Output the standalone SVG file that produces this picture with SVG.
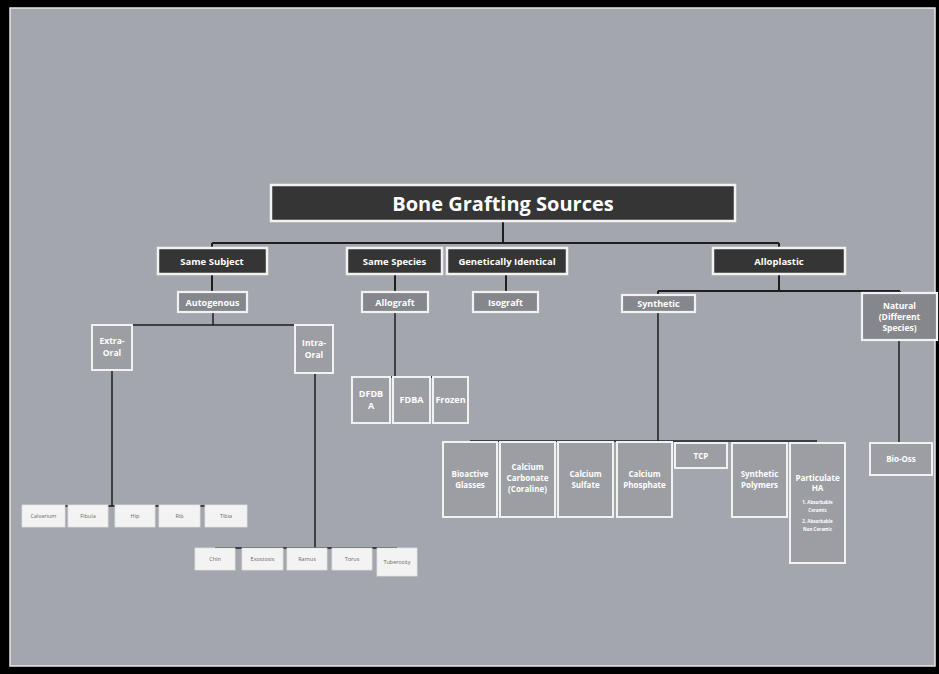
<svg xmlns="http://www.w3.org/2000/svg" width="939" height="674" viewBox="0 0 939 674">
<style>
.t{font-family:"Open Sans","Liberation Sans",sans-serif;font-weight:bold;text-anchor:middle;fill:#ffffff}
.dk{fill:#353535;stroke:#f2f2f2;stroke-width:2.5}
.md{fill:#85878c;stroke:#f2f2f2;stroke-width:2.2}
.lt{fill:#9c9ea3;stroke:#f2f2f2;stroke-width:2}
.wb{fill:#f3f3f3;stroke:#e0e0e0;stroke-width:0.8}
.wt{font-family:"Open Sans","Liberation Sans",sans-serif;font-size:5.5px;text-anchor:middle;fill:#6a6a6a}
.c{stroke:#1e1e1e;stroke-width:2;fill:none}
.c2{stroke:#1e1e1e;stroke-width:1.5;fill:none}
</style>
<rect x="0" y="0" width="939" height="674" fill="#000"/>
<rect x="10" y="8" width="925" height="658" fill="#a3a6ad" stroke="#e6e6e6" stroke-width="1.5"/>
<g id="connectors">
<path class="c" d="M503 221V243M212 243H779M212 243V248M779 243V248"/>
<path class="c" d="M212 274V292M395 274V292M506 274V292"/>
<path class="c" d="M779 274V291M658 291H900M658 291V295M900 291V293"/>
<path class="c2" d="M213 312V325M112 325H314"/>
<path class="c2" d="M112 370V506M44 506H226"/>
<path class="c2" d="M315 373V548M215 548H397"/>
<path class="c2" d="M395 312V377M371 377H450"/>
<path class="c2" d="M658 312V441M470 441H817"/>
<path class="c2" d="M899 340V443"/>
</g>
<g id="title"><rect class="dk" x="271" y="185" width="464" height="36"/><text class="t" x="503" y="211" font-size="20">Bone Grafting Sources</text></g>
<g id="same-subject"><rect class="dk" x="158" y="248" width="109" height="26"/><text class="t" x="212" y="265" font-size="9.5">Same Subject</text></g>
<g id="same-species"><rect class="dk" x="347" y="248" width="95" height="26"/><text class="t" x="394.5" y="265" font-size="9.5">Same Species</text></g>
<g id="genetically-identical"><rect class="dk" x="447" y="248" width="120" height="26"/><text class="t" x="507" y="265" font-size="9.5">Genetically Identical</text></g>
<g id="alloplastic"><rect class="dk" x="713" y="248" width="132" height="26"/><text class="t" x="779" y="265" font-size="9.5">Alloplastic</text></g>
<g id="autogenous"><rect class="md" x="178" y="292" width="69" height="20"/><text class="t" x="212.5" y="305.5" font-size="9">Autogenous</text></g>
<g id="allograft"><rect class="md" x="362" y="292" width="66" height="20"/><text class="t" x="395" y="305.5" font-size="9">Allograft</text></g>
<g id="isograft"><rect class="md" x="473" y="292" width="65" height="20"/><text class="t" x="505.5" y="305.5" font-size="9">Isograft</text></g>
<g id="synthetic"><rect class="md" x="622" y="295" width="73" height="17"/><text class="t" x="658.5" y="307" font-size="9">Synthetic</text></g>
<g id="natural"><rect class="md" x="862" y="293" width="75" height="47"/><text class="t" x="899.5" y="309" font-size="8.5">Natural</text><text class="t" x="899.5" y="320" font-size="8.5">(Different</text><text class="t" x="899.5" y="331" font-size="8.5">Species)</text></g>
<g id="extra-oral"><rect class="lt" x="92" y="325" width="40" height="45"/><text class="t" x="112" y="344" font-size="8.5" fill="#eee">Extra-</text><text class="t" x="112" y="356" font-size="8.5">Oral</text></g>
<g id="intra-oral"><rect class="lt" x="295" y="325" width="38" height="48"/><text class="t" x="314" y="346" font-size="8.5">Intra-</text><text class="t" x="314" y="358" font-size="8.5">Oral</text></g>
<g id="dfdba"><rect class="lt" x="352" y="377" width="38" height="46"/><text class="t" x="371" y="397" font-size="9">DFDB</text><text class="t" x="371" y="409" font-size="9">A</text></g>
<g id="fdba"><rect class="lt" x="393" y="377" width="37" height="46"/><text class="t" x="411.5" y="403" font-size="9">FDBA</text></g>
<g id="frozen"><rect class="lt" x="433" y="377" width="35" height="46"/><text class="t" x="450.5" y="403" font-size="9">Frozen</text></g>
<g id="bioactive-glasses"><rect class="lt" x="443" y="442" width="54" height="75"/><text class="t" x="470" y="477" font-size="8">Bioactive</text><text class="t" x="470" y="488" font-size="8">Glasses</text></g>
<g id="calcium-carbonate"><rect class="lt" x="500" y="442" width="55" height="75"/><text class="t" x="527.5" y="470" font-size="8">Calcium</text><text class="t" x="527.5" y="481" font-size="8">Carbonate</text><text class="t" x="527.5" y="492" font-size="8">(Coraline)</text></g>
<g id="calcium-sulfate"><rect class="lt" x="558" y="442" width="55" height="75"/><text class="t" x="585.5" y="477" font-size="8">Calcium</text><text class="t" x="585.5" y="488" font-size="8">Sulfate</text></g>
<g id="calcium-phosphate"><rect class="lt" x="617" y="442" width="55" height="75"/><text class="t" x="644.5" y="477" font-size="8">Calcium</text><text class="t" x="644.5" y="488" font-size="8">Phosphate</text></g>
<g id="tcp"><rect class="lt" x="675" y="443" width="52" height="25"/><text class="t" x="701" y="459" font-size="8">TCP</text></g>
<g id="synthetic-polymers"><rect class="lt" x="732" y="443" width="55" height="74"/><text class="t" x="759.5" y="477" font-size="8">Synthetic</text><text class="t" x="759.5" y="488" font-size="8">Polymers</text></g>
<g id="particulate-ha"><rect class="lt" x="790" y="443" width="55" height="120"/><text class="t" x="817.5" y="481" font-size="8">Particulate</text><text class="t" x="817.5" y="491" font-size="8">HA</text><text class="t" x="817.5" y="504" font-size="4.5">1. Absorbable</text><text class="t" x="817.5" y="512" font-size="4.5">Ceramic</text><text class="t" x="817.5" y="523" font-size="4.5">2. Absorbable</text><text class="t" x="817.5" y="531" font-size="4.5">Non Ceramic</text></g>
<g id="bio-oss"><rect class="lt" x="870" y="443" width="62" height="32"/><text class="t" x="901" y="462" font-size="8">Bio-Oss</text></g>
<g id="calvarium"><rect class="wb" x="22" y="505" width="43" height="22"/><text class="wt" x="43.5" y="518">Calvarium</text></g>
<g id="fibula"><rect class="wb" x="68" y="505" width="40" height="22"/><text class="wt" x="88" y="518">Fibula</text></g>
<g id="hip"><rect class="wb" x="115" y="505" width="40" height="22"/><text class="wt" x="135" y="518">Hip</text></g>
<g id="rib"><rect class="wb" x="159" y="505" width="41" height="22"/><text class="wt" x="179.5" y="518">Rib</text></g>
<g id="tibia"><rect class="wb" x="205" y="505" width="42" height="22"/><text class="wt" x="226" y="518">Tibia</text></g>
<g id="chin"><rect class="wb" x="195" y="548" width="40" height="22"/><text class="wt" x="215" y="561">Chin</text></g>
<g id="exostosis"><rect class="wb" x="242" y="548" width="41" height="22"/><text class="wt" x="262.5" y="561">Exostosis</text></g>
<g id="ramus"><rect class="wb" x="287" y="548" width="40" height="22"/><text class="wt" x="307" y="561">Ramus</text></g>
<g id="torus"><rect class="wb" x="332" y="548" width="40" height="22"/><text class="wt" x="352" y="561">Torus</text></g>
<g id="tuberosity"><rect class="wb" x="377" y="548" width="40" height="28"/><text class="wt" x="397" y="564">Tuberosity</text></g>
</svg>
